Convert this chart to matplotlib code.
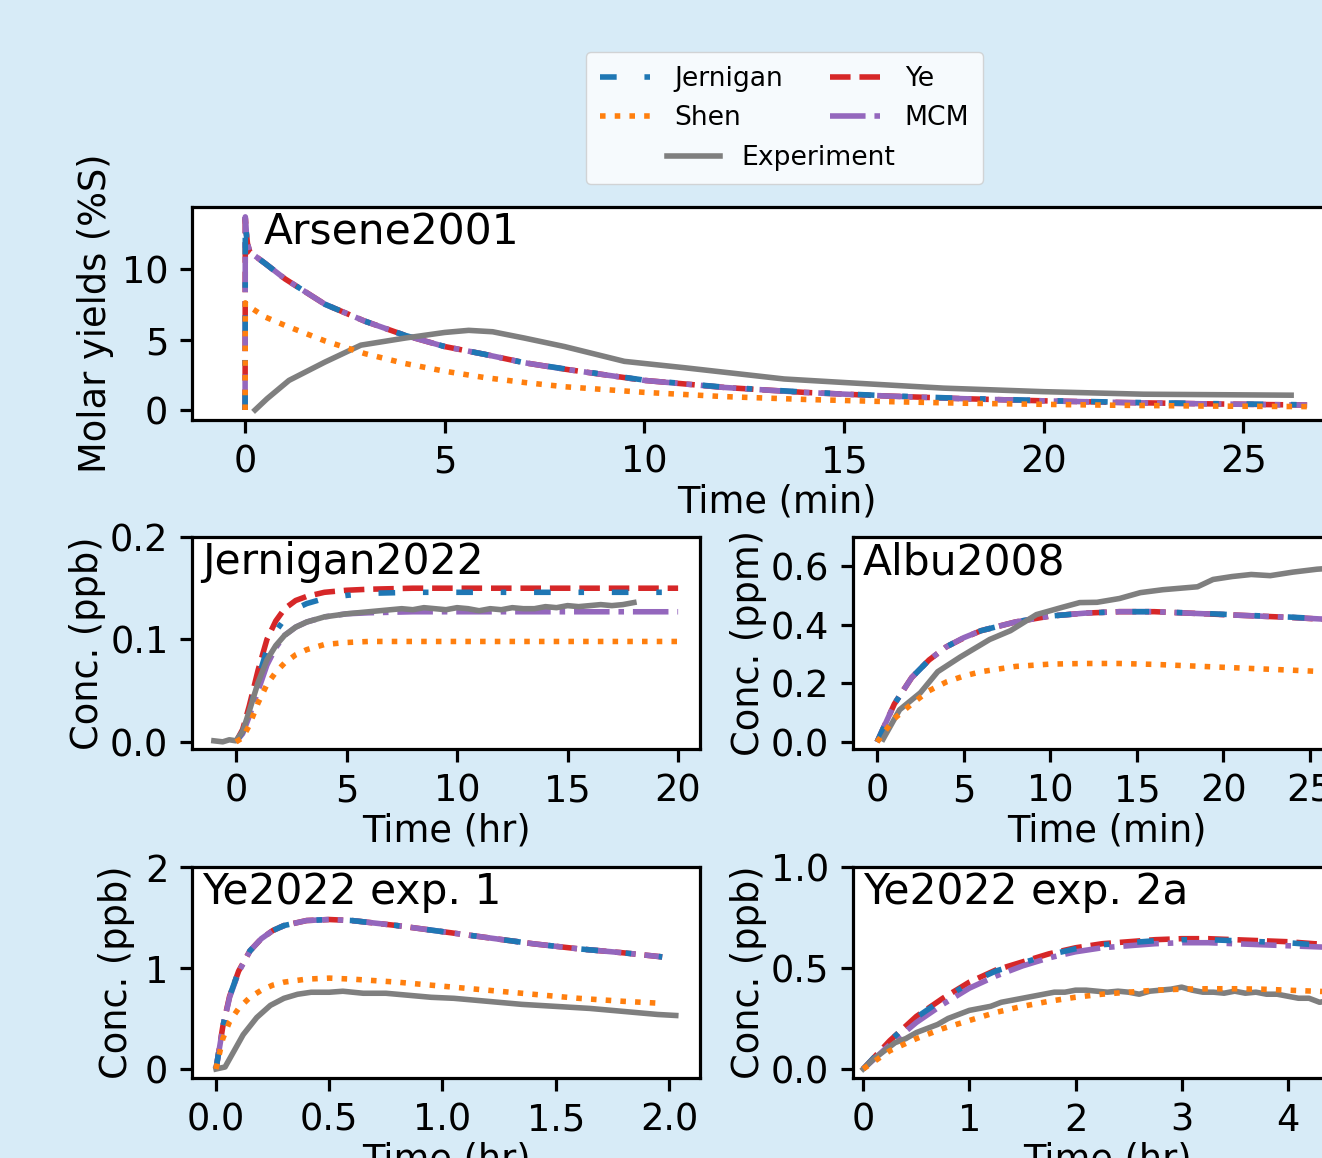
import matplotlib
matplotlib.use("Agg")
import matplotlib.pyplot as plt
from matplotlib.lines import Line2D
from matplotlib.ticker import FormatStrFormatter

# ---------------- data ----------------
# Arsene2001 (Time, min; molar yields %S)
ars_t_model = [0, 0.005, 0.03, 0.06, 0.12, 0.5, 1, 2, 3, 4, 5, 6, 7, 8, 10, 12, 14, 16, 18, 20, 22, 24, 26.6]
ars_ye = [0, 13.6, 12.6, 11.8, 11.2, 10.4, 9.3, 7.5, 6.3, 5.3, 4.5, 3.95, 3.35, 2.9, 2.1, 1.6, 1.25, 1.0, 0.8, 0.65, 0.53, 0.44, 0.35]
ars_jern = [0, 13.4, 12.5, 11.7, 11.2, 10.4, 9.3, 7.5, 6.3, 5.3, 4.5, 3.95, 3.35, 2.92, 2.12, 1.62, 1.27, 1.02, 0.82, 0.67, 0.55, 0.46, 0.37]
ars_mcm = [0, 13.7, 12.6, 11.8, 11.2, 10.4, 9.3, 7.5, 6.3, 5.3, 4.5, 3.95, 3.35, 2.9, 2.1, 1.6, 1.25, 1.0, 0.8, 0.65, 0.53, 0.44, 0.35]
ars_shen = [0, 7.6, 7.5, 7.4, 7.3, 6.6, 6.0, 4.9, 4.0, 3.3, 2.75, 2.3, 1.95, 1.65, 1.25, 0.95, 0.75, 0.6, 0.48, 0.4, 0.33, 0.28, 0.24]
ars_t_exp = [0.25, 0.55, 1.1, 2.0, 2.9, 4, 5, 5.6, 6.2, 7, 8, 9.5, 11, 13.5, 15, 17.5, 20, 22.5, 26.2]
ars_exp = [0, 0.8, 2.1, 3.4, 4.6, 5.1, 5.5, 5.65, 5.55, 5.1, 4.5, 3.45, 3.0, 2.2, 1.95, 1.55, 1.3, 1.12, 1.05]

# Jernigan2022 (Time, hr; ppb)
jer_t_model = [0, 0.3, 0.6, 1.0, 1.4, 1.8, 2.2, 2.7, 3.2, 4, 5, 6, 8, 10, 15, 20]
jer_ye = [0, 0.012, 0.035, 0.07, 0.1, 0.118, 0.13, 0.138, 0.142, 0.146, 0.148, 0.149, 0.15, 0.15, 0.15, 0.15]
jer_jern = [0, 0.01, 0.03, 0.062, 0.09, 0.108, 0.12, 0.13, 0.135, 0.14, 0.143, 0.145, 0.146, 0.146, 0.146, 0.146]
jer_mcm = [0, 0.008, 0.025, 0.05, 0.075, 0.092, 0.104, 0.112, 0.117, 0.122, 0.125, 0.126, 0.127, 0.127, 0.127, 0.127]
jer_shen = [0, 0.004, 0.016, 0.038, 0.056, 0.068, 0.077, 0.085, 0.09, 0.095, 0.097, 0.098, 0.098, 0.098, 0.098, 0.098]
jer_t_exp = [-1, -0.6, -0.3, 0, 0.3, 0.6, 1.0, 1.4, 1.8, 2.2, 2.7, 3.2, 4, 5, 6, 7, 7.5, 8, 8.5, 9, 9.5, 10, 10.5, 11,
             11.5, 12, 12.5, 13, 13.5, 14, 14.5, 15, 15.5, 16, 16.5, 17, 17.5, 18]
jer_exp = [0.001, 0.0, 0.002, 0.001, 0.01, 0.03, 0.058, 0.08, 0.094, 0.104, 0.112, 0.117, 0.122, 0.125, 0.127, 0.129,
           0.13, 0.129, 0.131, 0.13, 0.129, 0.131, 0.13, 0.128, 0.13, 0.129, 0.131, 0.13, 0.13, 0.132, 0.131,
           0.133, 0.132, 0.133, 0.134, 0.133, 0.134, 0.136]

# Albu2008 (Time, min; ppm)
alb_t_model = [0, 1, 2, 3, 4, 5, 6, 8, 10, 12, 14, 16, 18, 20, 22, 24, 26.6]
alb_ye = [0, 0.13, 0.22, 0.28, 0.325, 0.355, 0.38, 0.41, 0.43, 0.44, 0.445, 0.445, 0.44, 0.435, 0.43, 0.425, 0.416]
alb_jern = [0, 0.13, 0.22, 0.28, 0.325, 0.356, 0.38, 0.41, 0.43, 0.44, 0.445, 0.445, 0.441, 0.436, 0.431, 0.426, 0.418]
alb_mcm = [0, 0.13, 0.22, 0.28, 0.325, 0.356, 0.38, 0.41, 0.43, 0.44, 0.445, 0.445, 0.44, 0.435, 0.43, 0.425, 0.417]
alb_shen = [0, 0.08, 0.13, 0.175, 0.205, 0.225, 0.24, 0.258, 0.266, 0.268, 0.268, 0.265, 0.26, 0.255, 0.25, 0.245, 0.238]
alb_t_exp = [0.35, 1.3, 2.5, 3.5, 4.8, 6.5, 7.7, 9.2, 10.7, 11.7, 12.7, 14, 15.2, 16.5, 18.5, 19.4, 20.5, 21.6, 22.7, 24, 25.4, 26.6]
alb_exp = [0.01, 0.11, 0.168, 0.24, 0.29, 0.35, 0.38, 0.435, 0.46, 0.476, 0.477, 0.49, 0.51, 0.52, 0.53, 0.555, 0.565,
           0.572, 0.568, 0.58, 0.59, 0.595]

# Ye2022 exp. 1 (Time, hr; ppb)
ye1_t_model = [0, 0.03, 0.06, 0.1, 0.15, 0.2, 0.25, 0.3, 0.4, 0.5, 0.6, 0.8, 1.0, 1.2, 1.4, 1.6, 1.8, 1.97]
ye1_ye = [0, 0.42, 0.72, 0.97, 1.17, 1.29, 1.37, 1.42, 1.47, 1.48, 1.47, 1.42, 1.36, 1.30, 1.24, 1.19, 1.15, 1.11]
ye1_jern = [0, 0.42, 0.72, 0.97, 1.17, 1.29, 1.37, 1.42, 1.47, 1.48, 1.47, 1.42, 1.36, 1.30, 1.24, 1.19, 1.15, 1.11]
ye1_mcm = [0, 0.41, 0.71, 0.96, 1.17, 1.29, 1.37, 1.42, 1.47, 1.48, 1.47, 1.42, 1.36, 1.30, 1.24, 1.19, 1.15, 1.11]
ye1_shen = [0, 0.3, 0.47, 0.6, 0.71, 0.78, 0.83, 0.86, 0.89, 0.9, 0.89, 0.86, 0.82, 0.78, 0.74, 0.70, 0.67, 0.65]
ye1_t_exp = [0, 0.04, 0.08, 0.12, 0.18, 0.24, 0.3, 0.36, 0.42, 0.5, 0.56, 0.65, 0.75, 0.85, 0.95, 1.05, 1.2, 1.35,
             1.5, 1.65, 1.8, 1.95, 2.03]
ye1_exp = [0, 0.02, 0.18, 0.34, 0.51, 0.63, 0.7, 0.74, 0.76, 0.76, 0.77, 0.75, 0.75, 0.73, 0.71, 0.70, 0.67, 0.64,
           0.62, 0.60, 0.57, 0.54, 0.53]

# Ye2022 exp. 2a (Time, hr; ppb)
ye2_t_model = [0, 0.25, 0.5, 0.75, 1.0, 1.25, 1.5, 1.75, 2.0, 2.25, 2.5, 2.75, 3.0, 3.25, 3.5, 3.75, 4.0, 4.25, 4.5, 4.75]
ye2_ye = [0, 0.14, 0.26, 0.35, 0.43, 0.49, 0.53, 0.57, 0.6, 0.62, 0.63, 0.64, 0.645, 0.645, 0.64, 0.635, 0.63, 0.62, 0.615, 0.605]
ye2_jern = [0, 0.14, 0.255, 0.345, 0.425, 0.485, 0.525, 0.565, 0.595, 0.615, 0.625, 0.635, 0.64, 0.64, 0.635, 0.63, 0.625, 0.615, 0.61, 0.6]
ye2_mcm = [0, 0.12, 0.23, 0.32, 0.40, 0.46, 0.51, 0.55, 0.58, 0.60, 0.61, 0.62, 0.625, 0.625, 0.62, 0.615, 0.61, 0.605, 0.6, 0.59]
ye2_shen = [0, 0.09, 0.15, 0.2, 0.24, 0.28, 0.31, 0.335, 0.355, 0.37, 0.38, 0.39, 0.395, 0.397, 0.397, 0.395, 0.39, 0.385, 0.38, 0.375]
ye2_t_exp = [0, 0.1, 0.2, 0.3, 0.4, 0.5, 0.6, 0.7, 0.8, 0.9, 1.0, 1.1, 1.2, 1.3, 1.4, 1.5, 1.6, 1.7, 1.8, 1.9, 2.0,
             2.1, 2.2, 2.3, 2.4, 2.5, 2.6, 2.7, 2.8, 2.9, 3.0, 3.1, 3.2, 3.3, 3.4, 3.5, 3.6, 3.7, 3.8, 3.9, 4.0,
             4.1, 4.2, 4.3, 4.4, 4.5]
ye2_exp = [0, 0.05, 0.09, 0.13, 0.15, 0.18, 0.2, 0.22, 0.25, 0.27, 0.29, 0.3, 0.31, 0.33, 0.34, 0.35, 0.36, 0.37,
           0.38, 0.38, 0.39, 0.39, 0.385, 0.38, 0.385, 0.38, 0.37, 0.385, 0.39, 0.395, 0.405, 0.39, 0.38, 0.38,
           0.375, 0.385, 0.375, 0.38, 0.37, 0.37, 0.36, 0.35, 0.35, 0.33, 0.34, 0.33]

labels = ["Jernigan", "Shen", "Ye", "MCM", "Experiment"]
titles = ["Arsene2001", "Jernigan2022", "Albu2008", "Ye2022 exp. 1", "Ye2022 exp. 2a"]

# ---------------- styling ----------------
W, H = 1322, 1158
FS = 26.5
plt.rcParams.update({
    "font.family": "DejaVu Sans",
    "font.size": FS,
    "axes.linewidth": 2.3,
    "xtick.major.size": 9,
    "ytick.major.size": 9,
    "xtick.major.width": 2.3,
    "ytick.major.width": 2.3,
    "xtick.major.pad": 8,
    "ytick.major.pad": 8,
    "lines.linewidth": 4.0,
})

C_J, C_S, C_Y, C_M, C_E = "#1f77b4", "#ff7f0e", "#d62728", "#9467bd", "#7f7f7f"
LS_J = (0, (3, 5, 1, 5))

fig = plt.figure(figsize=(W / 100, H / 100), dpi=100, facecolor="#d7ebf7")


def add_ax(left, top, right, bottom):
    return fig.add_axes([left / W, 1 - bottom / H, (right - left) / W, (bottom - top) / H])


ax_top = add_ax(192, 207, 1361, 420)
ax_jer = add_ax(192, 537, 700, 749)
ax_alb = add_ax(853, 537, 1361, 749)
ax_ye1 = add_ax(192, 867, 700, 1078)
ax_ye2 = add_ax(853, 867, 1361, 1078)

panels = [
    (ax_top, ars_t_model, ars_jern, ars_shen, ars_ye, ars_mcm, ars_t_exp, ars_exp),
    (ax_jer, jer_t_model, jer_jern, jer_shen, jer_ye, jer_mcm, jer_t_exp, jer_exp),
    (ax_alb, alb_t_model, alb_jern, alb_shen, alb_ye, alb_mcm, alb_t_exp, alb_exp),
    (ax_ye1, ye1_t_model, ye1_jern, ye1_shen, ye1_ye, ye1_mcm, ye1_t_exp, ye1_exp),
    (ax_ye2, ye2_t_model, ye2_jern, ye2_shen, ye2_ye, ye2_mcm, ye2_t_exp, ye2_exp),
]

handles = {}
for i, (ax, tm, yj, ys, yy, ym, te, ye) in enumerate(panels):
    hy, = ax.plot(tm, yy, color=C_Y, linestyle="--", zorder=2.1)
    hm, = ax.plot(tm, ym, color=C_M, linestyle="-.", zorder=2.2)
    hj, = ax.plot(tm, yj, color=C_J, linestyle=LS_J, zorder=2.3)
    he, = ax.plot(te, ye, color=C_E, linestyle="-", zorder=2.4)
    hs, = ax.plot(tm, ys, color=C_S, linestyle=":", zorder=2.5)
    handles = {"Jernigan": hj, "Shen": hs, "Ye": hy, "MCM": hm, "Experiment": he}
    ax.set_facecolor("white")
    ax.text(0.02 if i else 0.061, 1 - 4 / 212, titles[i], transform=ax.transAxes,
            ha="left", va="top", fontsize=30.5)

# limits and ticks
ax_top.set_xlim(-1.33, 27.95)
ax_top.set_ylim(-0.71, 14.4)
ax_top.set_xticks([0, 5, 10, 15, 20, 25])
ax_top.set_yticks([0, 5, 10])

ax_jer.set_xlim(-1.99, 20.99)
ax_jer.set_ylim(-0.007, 0.2)
ax_jer.set_xticks([0, 5, 10, 15, 20])
ax_jer.set_yticks([0.0, 0.1, 0.2])

ax_alb.set_xlim(-1.39, 27.94)
ax_alb.set_ylim(-0.024, 0.7)
ax_alb.set_xticks([0, 5, 10, 15, 20, 25])
ax_alb.set_yticks([0.0, 0.2, 0.4, 0.6])

ax_ye1.set_xlim(-0.106, 2.137)
ax_ye1.set_ylim(-0.089, 2.0)
ax_ye1.set_xticks([0.0, 0.5, 1.0, 1.5, 2.0])
ax_ye1.set_yticks([0, 1, 2])

ax_ye2.set_xlim(-0.097, 4.69)
ax_ye2.set_ylim(-0.045, 1.0)
ax_ye2.set_xticks([0, 1, 2, 3, 4])
ax_ye2.set_yticks([0.0, 0.5, 1.0])

ax_jer.yaxis.set_major_formatter(FormatStrFormatter("%.1f"))
ax_alb.yaxis.set_major_formatter(FormatStrFormatter("%.1f"))
ax_ye1.xaxis.set_major_formatter(FormatStrFormatter("%.1f"))
ax_ye2.yaxis.set_major_formatter(FormatStrFormatter("%.1f"))

# axis labels
xl = [(ax_top, "Time (min)"), (ax_jer, "Time (hr)"), (ax_alb, "Time (min)"), (ax_ye1, "Time (hr)"), (ax_ye2, "Time (hr)")]
for ax, t in xl:
    ax.set_xlabel(t, labelpad=2)

yl = [(ax_top, "Molar yields (%S)", 114, 192, 1169),
      (ax_jer, "Conc. (ppb)", 106, 192, 508),
      (ax_alb, "Conc. (ppm)", 767, 853, 508),
      (ax_ye1, "Conc. (ppb)", 135, 192, 508),
      (ax_ye2, "Conc. (ppb)", 767, 853, 508)]
for ax, t, xr, left, wid in yl:
    ax.set_ylabel(t)
    ax.yaxis.set_label_coords((xr - left) / wid, 0.5)

# legend
blank = Line2D([], [], linestyle="none")
leg1 = fig.legend([handles["Jernigan"], handles["Shen"], blank, handles["Ye"], handles["MCM"], blank],
                  ["Jernigan", "Shen", " ", "Ye", "MCM", " "],
                  ncol=2, loc="upper left", bbox_to_anchor=(586 / W, 1 - 52 / H),
                  borderaxespad=0, fontsize=19.2, columnspacing=1.75, borderpad=0.52,
                  framealpha=0.8)
leg2 = fig.legend([handles["Experiment"]], ["Experiment"], loc="center",
                  bbox_to_anchor=(781 / W, 1 - 158 / H), borderaxespad=0, fontsize=19.2,
                  frameon=False)

fig.savefig("out.png", dpi=100, facecolor=fig.get_facecolor())
